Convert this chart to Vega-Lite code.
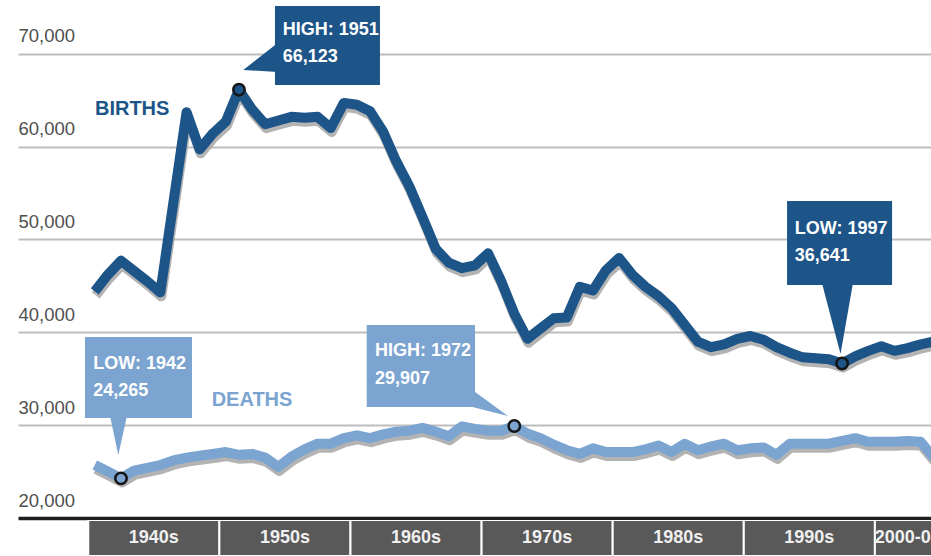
{
  "$schema": "https://vega.github.io/schema/vega-lite/v6.json",
  "autosize": {"type": "pad"},
  "padding": {"left": 18, "top": 0, "right": 0, "bottom": 0},
  "background": "white",
  "bounds": "flush",
  "spacing": 2,
  "config": {"view": {"stroke": null}},
  "datasets": {
    "vital": [
      {"year":1940,"births":44400,"deaths":25700},
      {"year":1941,"births":46200,"deaths":25000},
      {"year":1942,"births":47700,"deaths":24265},
      {"year":1943,"births":46600,"deaths":25100},
      {"year":1944,"births":45500,"deaths":25400},
      {"year":1945,"births":44300,"deaths":25700},
      {"year":1946,"births":54000,"deaths":26200},
      {"year":1947,"births":63700,"deaths":26500},
      {"year":1948,"births":59700,"deaths":26700},
      {"year":1949,"births":61400,"deaths":26900},
      {"year":1950,"births":62700,"deaths":27100},
      {"year":1951,"births":66123,"deaths":26800},
      {"year":1952,"births":64000,"deaths":26900},
      {"year":1953,"births":62400,"deaths":26500},
      {"year":1954,"births":62800,"deaths":25500},
      {"year":1955,"births":63200,"deaths":26600},
      {"year":1956,"births":63100,"deaths":27400},
      {"year":1957,"births":63200,"deaths":28000},
      {"year":1958,"births":62000,"deaths":28000},
      {"year":1959,"births":64700,"deaths":28600},
      {"year":1960,"births":64500,"deaths":28900},
      {"year":1961,"births":63800,"deaths":28600},
      {"year":1962,"births":61600,"deaths":29000},
      {"year":1963,"births":58400,"deaths":29300},
      {"year":1964,"births":55700,"deaths":29400},
      {"year":1965,"births":52400,"deaths":29700},
      {"year":1966,"births":49000,"deaths":29300},
      {"year":1967,"births":47500,"deaths":28800},
      {"year":1968,"births":46900,"deaths":29850},
      {"year":1969,"births":47200,"deaths":29600},
      {"year":1970,"births":48500,"deaths":29400},
      {"year":1971,"births":45500,"deaths":29400},
      {"year":1972,"births":42000,"deaths":29907},
      {"year":1973,"births":39300,"deaths":29100},
      {"year":1974,"births":40400,"deaths":28600},
      {"year":1975,"births":41500,"deaths":27900},
      {"year":1976,"births":41600,"deaths":27300},
      {"year":1977,"births":44900,"deaths":26900},
      {"year":1978,"births":44500,"deaths":27500},
      {"year":1979,"births":46700,"deaths":27100},
      {"year":1980,"births":48000,"deaths":27100},
      {"year":1981,"births":46200,"deaths":27100},
      {"year":1982,"births":44900,"deaths":27400},
      {"year":1983,"births":43900,"deaths":27800},
      {"year":1984,"births":42600,"deaths":27100},
      {"year":1985,"births":40800,"deaths":28000},
      {"year":1986,"births":39000,"deaths":27300},
      {"year":1987,"births":38400,"deaths":27700},
      {"year":1988,"births":38700,"deaths":28000},
      {"year":1989,"births":39300,"deaths":27300},
      {"year":1990,"births":39600,"deaths":27500},
      {"year":1991,"births":39200,"deaths":27600},
      {"year":1992,"births":38400,"deaths":26800},
      {"year":1993,"births":37800,"deaths":28000},
      {"year":1994,"births":37300,"deaths":28000},
      {"year":1995,"births":37200,"deaths":28000},
      {"year":1996,"births":37100,"deaths":28000},
      {"year":1997,"births":36641,"deaths":28300},
      {"year":1998,"births":37400,"deaths":28600},
      {"year":1999,"births":38000,"deaths":28200},
      {"year":2000,"births":38500,"deaths":28200},
      {"year":2001,"births":38000,"deaths":28200},
      {"year":2002,"births":38300,"deaths":28300},
      {"year":2003,"births":38700,"deaths":28200},
      {"year":2004,"births":39000,"deaths":26500}
    ],
    "callouts": [
      {"series":"births","label":"HIGH: 1951\n66,123","x0":1954.24,"x1":1962.25,"top":75137,"bottom":66630,"tx":1954.83,"ty":72014},
      {"series":"births","label":"LOW: 1997\n36,641","x0":1993.30,"x1":2001.31,"top":54138,"bottom":45092,"tx":1993.89,"ty":50584},
      {"series":"deaths","label":"LOW: 1942\n24,265","x0":1939.75,"x1":1947.91,"top":39492,"bottom":30769,"tx":1940.38,"ty":36046},
      {"series":"deaths","label":"HIGH: 1972\n29,907","x0":1961.24,"x1":1969.50,"top":40784,"bottom":31954,"tx":1961.87,"ty":37392}
    ],
    "tailsV": [
      {"id":"b51","series":"births","x":1951.82,"y":68245,"y2":68245},
      {"id":"b51","series":"births","x":1954.45,"y":71153,"y2":68030},
      {"id":"d72","series":"deaths","x":1969.30,"y":33784,"y2":31954},
      {"id":"d72","series":"deaths","x":1972.01,"y":30984,"y2":30984}
    ],
    "tailsH": [
      {"id":"b97","series":"births","y":45307,"x":1995.96,"x2":1998.33},
      {"id":"b97","series":"births","y":37661,"x":1997.38,"x2":1997.38},
      {"id":"d42","series":"deaths","y":30984,"x":1941.66,"x2":1942.95},
      {"id":"d42","series":"deaths","y":26784,"x":1942.29,"x2":1942.29}
    ],
    "labels": [
      {"series":"births","label":"BIRTHS","x":1940.51,"y":63345},
      {"series":"deaths","label":"DEATHS","x":1949.41,"y":32008}
    ],
    "decades": [
      {"decade":"1940s","start":1940,"end":1950,"mid":1945},
      {"decade":"1950s","start":1950,"end":1960,"mid":1955},
      {"decade":"1960s","start":1960,"end":1970,"mid":1965},
      {"decade":"1970s","start":1970,"end":1980,"mid":1975},
      {"decade":"1980s","start":1980,"end":1990,"mid":1985},
      {"decade":"1990s","start":1990,"end":2000,"mid":1995},
      {"decade":"2000-04","start":2000,"end":2005,"mid":2002.5}
    ]
  },
  "vconcat": [
    {
      "width": 913,
      "height": 518,
      "layer": [
        {
          "data": {"name": "vital"},
          "transform": [{"fold": ["births", "deaths"], "as": ["series", "value"]}],
          "mark": {"type": "line", "strokeWidth": 10, "color": "#a6a6a6", "opacity": 0.85, "xOffset": 7.5, "yOffset": 4, "clip": true, "strokeJoin": "round"},
          "encoding": {
            "x": {"field": "year", "type": "quantitative", "scale": {"domain": [1934.64, 2004.28], "nice": false, "zero": false}, "axis": null},
            "y": {"field": "value", "type": "quantitative", "scale": {"domain": [20000, 75783], "nice": false, "zero": false},
              "axis": {
                "title": null, "values": [20000, 30000, 40000, 50000, 60000, 70000], "format": ",d",
                "domain": false, "ticks": false, "tickSize": 0,
                "grid": true,
                "gridColor": {"condition": {"test": "datum.value === 20000", "value": "#1e1e1e"}, "value": "#bdbdbd"},
                "gridWidth": {"condition": {"test": "datum.value === 20000", "value": 3.5}, "value": 2},
                "labelAlign": "left", "labelBaseline": "alphabetic", "labelPadding": 0, "labelOffset": -12,
                "labelFont": "Liberation Sans, Arial, sans-serif",
                "labelFontSize": 18.5, "labelColor": "#4f4f4f", "labelOverlap": false, "labelFlush": false, "labelBound": false
              }
            },
            "detail": {"field": "series"}
          }
        },
        {
          "data": {"name": "vital"},
          "transform": [{"fold": ["births", "deaths"], "as": ["series", "value"]}],
          "mark": {"type": "line", "strokeWidth": 10, "xOffset": 6.5, "clip": true, "strokeJoin": "round"},
          "encoding": {
            "x": {"field": "year", "type": "quantitative"},
            "y": {"field": "value", "type": "quantitative"},
            "color": {"field": "series", "type": "nominal", "scale": {"domain": ["births", "deaths"], "range": ["#1d5589", "#7ba4d1"]}, "legend": null}
          }
        },
        {
          "data": {"name": "tailsV"},
          "mark": {"type": "area", "orient": "vertical"},
          "encoding": {
            "x": {"field": "x", "type": "quantitative"},
            "y": {"field": "y", "type": "quantitative"},
            "y2": {"field": "y2"},
            "detail": {"field": "id"},
            "color": {"field": "series", "type": "nominal", "legend": null}
          }
        },
        {
          "data": {"name": "tailsH"},
          "mark": {"type": "area", "orient": "horizontal"},
          "encoding": {
            "y": {"field": "y", "type": "quantitative"},
            "x": {"field": "x", "type": "quantitative"},
            "x2": {"field": "x2"},
            "detail": {"field": "id"},
            "color": {"field": "series", "type": "nominal", "legend": null}
          }
        },
        {
          "data": {"name": "callouts"},
          "mark": {"type": "rect"},
          "encoding": {
            "x": {"field": "x0", "type": "quantitative"},
            "x2": {"field": "x1"},
            "y": {"field": "top", "type": "quantitative"},
            "y2": {"field": "bottom"},
            "color": {"field": "series", "type": "nominal", "legend": null}
          }
        },
        {
          "data": {"name": "callouts"},
          "mark": {"type": "text", "align": "left", "baseline": "alphabetic", "lineBreak": "\n", "lineHeight": 27.5, "font": "Liberation Sans, Arial, sans-serif", "fontSize": 18, "fontWeight": "bold", "color": "#ffffff"},
          "encoding": {
            "x": {"field": "tx", "type": "quantitative"},
            "y": {"field": "ty", "type": "quantitative"},
            "text": {"field": "label"}
          }
        },
        {
          "data": {"name": "vital"},
          "transform": [
            {"fold": ["births", "deaths"], "as": ["series", "value"]},
            {"filter": "(datum.series === 'births' && (datum.year === 1951 || datum.year === 1997)) || (datum.series === 'deaths' && (datum.year === 1942 || datum.year === 1972))"}
          ],
          "mark": {"type": "point", "filled": true, "size": 130, "stroke": "#151515", "strokeWidth": 2.5, "opacity": 1, "xOffset": 6.5},
          "encoding": {
            "x": {"field": "year", "type": "quantitative"},
            "y": {"field": "value", "type": "quantitative"},
            "color": {"field": "series", "type": "nominal", "legend": null}
          }
        },
        {
          "data": {"name": "labels"},
          "mark": {"type": "text", "align": "left", "baseline": "alphabetic", "font": "Liberation Sans, Arial, sans-serif", "fontSize": 20, "fontWeight": "bold"},
          "encoding": {
            "x": {"field": "x", "type": "quantitative"},
            "y": {"field": "y", "type": "quantitative"},
            "text": {"field": "label"},
            "color": {"field": "series", "type": "nominal", "legend": null}
          }
        }
      ]
    },
    {
      "width": 913,
      "height": 36,
      "data": {"name": "decades"},
      "layer": [
        {
          "mark": {"type": "rect", "color": "#595959", "stroke": "#ffffff", "strokeWidth": 2, "clip": true},
          "encoding": {
            "x": {"field": "start", "type": "quantitative", "scale": {"domain": [1934.64, 2004.28], "nice": false, "zero": false}, "axis": null},
            "x2": {"field": "end"}
          }
        },
        {
          "mark": {"type": "text", "color": "#f0f0f0", "font": "Liberation Sans, Arial, sans-serif", "fontSize": 18, "fontWeight": "bold", "clip": true},
          "encoding": {
            "x": {"field": "mid", "type": "quantitative", "scale": {"domain": [1934.64, 2004.28], "nice": false, "zero": false}, "axis": null},
            "text": {"field": "decade"}
          }
        }
      ]
    }
  ]
}
